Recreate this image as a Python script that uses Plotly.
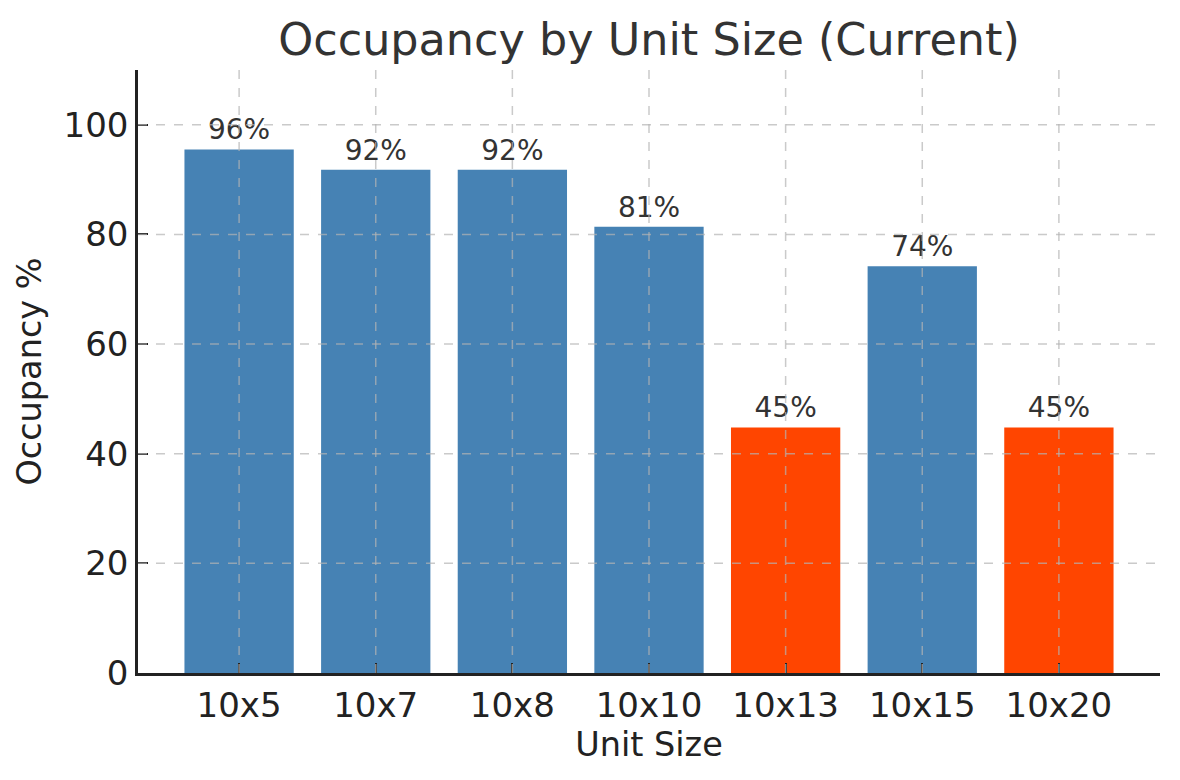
import plotly.graph_objects as go

categories = ["10x5", "10x7", "10x8", "10x10", "10x13", "10x15", "10x20"]
occupancy = [95.5, 91.8, 91.8, 81.4, 44.8, 74.2, 44.8]
labels = ["96%", "92%", "92%", "81%", "45%", "74%", "45%"]
colors = ["#4682B4", "#4682B4", "#4682B4", "#4682B4", "#FF4500", "#4682B4", "#FF4500"]
y_ticks = [0, 20, 40, 60, 80, 100]

FONT = "DejaVu Sans"

fig = go.Figure()
fig.add_trace(go.Bar(
    x=categories, y=occupancy, marker=dict(color=colors, line=dict(width=0)),
    width=0.8, text=labels, textposition="outside", cliponaxis=False,
    textfont=dict(family=FONT, size=28, color="#333333"),
    hoverinfo="skip",
))

grid_style = dict(color="rgba(180,180,180,0.7)", width=1.5, dash="dash")
shapes = []
for v in y_ticks[1:]:
    shapes.append(dict(type="line", xref="paper", x0=0, x1=1, yref="y", y0=v, y1=v,
                       line=grid_style, layer="above"))
for c in categories:
    shapes.append(dict(type="line", xref="x", x0=c, x1=c, yref="paper", y0=0, y1=1,
                       line=grid_style, layer="above"))

fig.update_layout(
    width=1180, height=780,
    margin=dict(l=130, r=28, t=62, b=115),
    plot_bgcolor="white", paper_bgcolor="white",
    showlegend=False,
    font=dict(family=FONT, color="#222222"),
    title=dict(text="Occupancy by Unit Size (Current)", x=0.5, xanchor="center", xref="paper",
               y=1 - 31 / 780, yanchor="middle", yref="container",
               font=dict(family=FONT, size=44.5, color="#333333")),
    shapes=shapes,
    bargap=0.2,
)
fig.update_xaxes(
    type="category", range=[-0.74, 6.74], showgrid=False,
    showline=True, linecolor="#222222", linewidth=2.5,
    ticks="inside", ticklen=10, tickwidth=2, tickcolor="#222222",
    tickfont=dict(family=FONT, size=34, color="#222222"),
    title=dict(text="Unit Size", font=dict(family=FONT, size=33.5, color="#222222"), standoff=7),
    zeroline=False,
)
fig.update_yaxes(
    range=[0, 110], tickvals=y_ticks, showgrid=False,
    showline=True, linecolor="#222222", linewidth=2.5,
    ticks="inside", ticklen=10, tickwidth=2, tickcolor="#222222",
    ticklabelstandoff=0,
    tickfont=dict(family=FONT, size=34, color="#222222"),
    title=dict(text="Occupancy %", font=dict(family=FONT, size=33.5, color="#222222"), standoff=12),
    zeroline=False,
)

fig.write_html("out.html")
